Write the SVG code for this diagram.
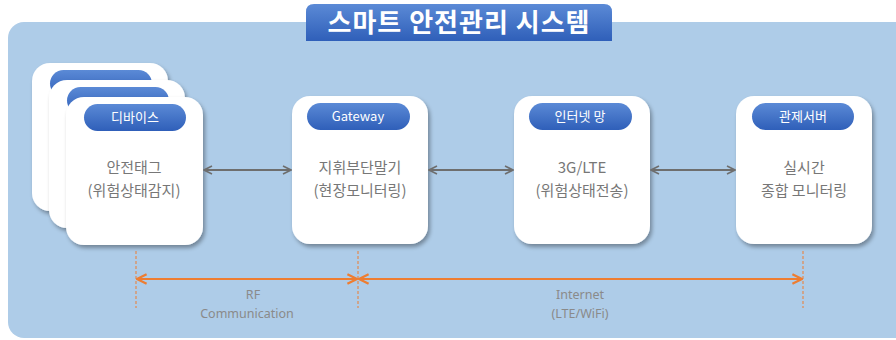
<svg xmlns="http://www.w3.org/2000/svg" width="896" height="340" viewBox="0 0 896 340">
<defs>
<linearGradient id="blue" x1="0" y1="0" x2="0" y2="1">
<stop offset="0" stop-color="#5b8ad6"/>
<stop offset="1" stop-color="#2f5fb9"/>
</linearGradient>
<filter id="sh" x="-20%" y="-20%" width="150%" height="150%">
<feGaussianBlur in="SourceAlpha" stdDeviation="2"/>
<feOffset dx="2" dy="3" result="o"/>
<feComponentTransfer><feFuncA type="linear" slope="0.35"/></feComponentTransfer>
<feMerge><feMergeNode/><feMergeNode in="SourceGraphic"/></feMerge>
</filter>
<marker id="ga" viewBox="0 0 10 10" refX="9" refY="5" markerWidth="10" markerHeight="10" markerUnits="userSpaceOnUse" orient="auto-start-reverse">
<path d="M1,1 L9,5 L1,9" fill="none" stroke="#6e6e6e" stroke-width="1.6"/>
</marker>
<marker id="oa" viewBox="0 0 10 10" refX="9" refY="5" markerWidth="12" markerHeight="12" markerUnits="userSpaceOnUse" orient="auto-start-reverse">
<path d="M1,1 L9,5 L1,9" fill="none" stroke="#ee7d31" stroke-width="1.8"/>
</marker>
</defs>
<style>
.card{fill:#ffffff;filter:url(#sh)}
.pill{fill:url(#blue)}
.pt{font-family:"Noto Sans CJK KR","Noto Sans",sans-serif;font-size:13px;fill:#ffffff;text-anchor:middle}
.mt{font-family:"Noto Sans CJK KR","Noto Sans",sans-serif;font-size:15px;fill:#777777;text-anchor:middle}
.lt{font-family:"Noto Sans","Noto Sans CJK KR",sans-serif;font-size:12.5px;fill:#8a8a8a;text-anchor:middle}
.gl{stroke:#6e6e6e;stroke-width:2;fill:none}
.ol{stroke:#ee7d31;stroke-width:2;fill:none}
.od{stroke:#ee7d31;stroke-width:1;stroke-dasharray:3,2;fill:none}
</style>
<rect x="8" y="22" width="910" height="316" rx="16" fill="#aecce8"/>
<g id="title">
<path d="M306,41 V12 Q306,4 314,4 H604 Q612,4 612,12 V41 Z" fill="url(#blue)"/>
<text x="459" y="32" font-family="Noto Sans CJK KR,sans-serif" font-size="26" font-weight="bold" letter-spacing="1" fill="#ffffff" text-anchor="middle">스마트 안전관리 시스템</text>
</g>
<g id="device">
<rect class="card" x="32" y="63" width="136" height="148" rx="18"/>
<rect class="pill" x="50" y="70" width="102" height="27" rx="13.5"/>
<rect class="card" x="49" y="80" width="136" height="148" rx="18"/>
<rect class="pill" x="67" y="87" width="102" height="27" rx="13.5"/>
<rect class="card" x="66" y="97" width="137" height="148" rx="18"/>
<rect class="pill" x="84" y="104" width="102" height="27" rx="13.5"/>
<text class="pt" x="135" y="122">디바이스</text>
<text class="mt" x="134" y="173">안전태그</text>
<text class="mt" x="134" y="196">(위험상태감지)</text>
</g>
<g id="gateway">
<rect class="card" x="292" y="96" width="136" height="148" rx="18"/>
<rect class="pill" x="307" y="103" width="103" height="27" rx="13.5"/>
<text class="pt" x="358" y="121">Gateway</text>
<text class="mt" x="360" y="173">지휘부단말기</text>
<text class="mt" x="360" y="196">(현장모니터링)</text>
</g>
<g id="internet">
<rect class="card" x="514" y="96" width="136" height="148" rx="18"/>
<rect class="pill" x="529" y="103" width="103" height="27" rx="13.5"/>
<text class="pt" x="580" y="121">인터넷 망</text>
<text class="mt" x="582" y="173">3G/LTE</text>
<text class="mt" x="582" y="196">(위험상태전송)</text>
</g>
<g id="server">
<rect class="card" x="736" y="96" width="136" height="148" rx="18"/>
<rect class="pill" x="752" y="103" width="102" height="27" rx="13.5"/>
<text class="pt" x="803" y="121">관제서버</text>
<text class="mt" x="804" y="173">실시간</text>
<text class="mt" x="804" y="196">종합 모니터링</text>
</g>
<g id="connectors">
<line class="gl" x1="204" y1="170" x2="291" y2="170" marker-start="url(#ga)" marker-end="url(#ga)"/>
<line class="gl" x1="429" y1="170" x2="513" y2="170" marker-start="url(#ga)" marker-end="url(#ga)"/>
<line class="gl" x1="651" y1="170" x2="735" y2="170" marker-start="url(#ga)" marker-end="url(#ga)"/>
<line class="od" x1="136" y1="251" x2="136" y2="308"/>
<line class="od" x1="358" y1="251" x2="358" y2="308"/>
<line class="od" x1="803" y1="251" x2="803" y2="308"/>
<line class="ol" x1="137" y1="279" x2="357" y2="279" marker-start="url(#oa)" marker-end="url(#oa)"/>
<line class="ol" x1="359" y1="279" x2="802" y2="279" marker-start="url(#oa)" marker-end="url(#oa)"/>
</g>
<g id="labels">
<text class="lt" x="253" y="299">RF</text>
<text class="lt" x="247" y="318">Communication</text>
<text class="lt" x="580" y="299">Internet</text>
<text class="lt" x="580" y="318">(LTE/WiFi)</text>
</g>
</svg>
